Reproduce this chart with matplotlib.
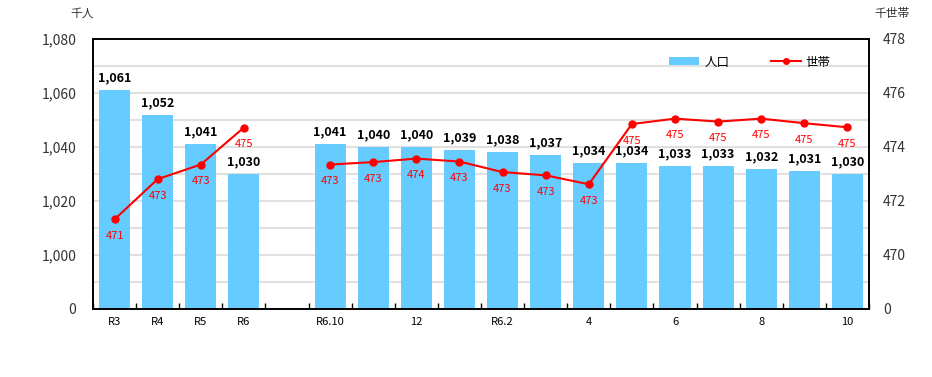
import numpy as np
import matplotlib.pyplot as plt
from matplotlib.ticker import FuncFormatter, MultipleLocator
from matplotlib.lines import Line2D
from matplotlib.patches import Patch

plt.rcParams['font.family'] = ['Noto Sans CJK JP', 'DejaVu Sans']

# data (blank slot between R6 and R6.10)
labels = ["R3", "R4", "R5", "R6", "", "R6.10", "", "12", "", "R6.2", "",
          "4", "", "6", "", "8", "", "10"]
population = [1061, 1052, 1041, 1030, np.nan, 1041, 1040, 1040, 1039, 1038,
              1037, 1034, 1034, 1033, 1033, 1032, 1031, 1030]
households = [471.32, 472.81, 473.35, 474.72, np.nan, 473.35, 473.44, 473.57,
              473.46, 473.07, 472.95, 472.62, 474.85, 475.05, 474.94, 475.05,
              474.88, 474.73]

bar_color = "#66CCFF"
line_color = "#FF0000"

x = np.arange(len(labels))
pop = np.array(population, dtype=float)
hh = np.array(households, dtype=float)

fig = plt.figure(figsize=(9.32, 3.77), dpi=100)
ax = fig.add_axes([0.0998, 0.1804, 0.8326, 0.7162])
ax2 = ax.twinx()

ax.set_axisbelow(True)
ax.bar(x, pop, width=0.72, color=bar_color, zorder=2)
ax.set_xlim(-0.5, len(labels) - 0.5)
ax.set_ylim(980, 1080)
ax.set_yticks(np.arange(980, 1081, 20))
ax.yaxis.set_minor_locator(MultipleLocator(10))
ax.grid(axis="y", which="both", color="#E0E0E0", linewidth=1.5, zorder=0)
ax.yaxis.set_major_formatter(FuncFormatter(lambda v, p: "0" if v <= 980 else f"{int(v):,}"))
ax.tick_params(axis="y", which="both", length=0, labelsize=10, labelcolor="#333333", pad=12)

ax.set_xticks(x)
ax.set_xticklabels(labels, fontsize=8)
ax.tick_params(axis="x", which="major", length=0, pad=6)
ax.set_xticks(np.arange(-0.5, len(labels)), minor=True)
ax.tick_params(axis="x", which="minor", direction="in", length=4, width=1)

for xi, v in zip(x, pop):
    if not np.isnan(v):
        ax.annotate(f"{int(v):,}", (xi, v), xytext=(0, 4), textcoords="offset points",
                    ha="center", va="bottom", fontsize=9, fontweight="bold", color="black")

ax2.plot(x, hh, color=line_color, linewidth=1.5, marker="o", markersize=5, zorder=3)
ax2.set_ylim(468, 478)
ax2.set_yticks(np.arange(468, 479, 2))
ax2.yaxis.set_major_formatter(FuncFormatter(lambda v, p: "0" if v <= 468 else f"{int(v)}"))
ax2.tick_params(axis="y", length=0, labelsize=10, labelcolor="#333333", pad=10)

for xi, v in zip(x, hh):
    if not np.isnan(v):
        ax2.annotate(f"{int(round(v))}", (xi, v), xytext=(0, -8.5), textcoords="offset points",
                     ha="center", va="top", fontsize=8, color=line_color)

for a in (ax, ax2):
    for s in a.spines.values():
        s.set_color("black")
        s.set_linewidth(1.2)

fig.text(0.088, 0.965, "千人", fontsize=8.5, ha="center", va="center", color="#333333")
fig.text(0.957, 0.965, "千世帯", fontsize=8.5, ha="center", va="center", color="#333333")

handles = [Patch(facecolor=bar_color, edgecolor="none"),
           Line2D([0], [0], color=line_color, marker="o", markersize=4, linewidth=1.5)]
ax2.legend(handles, ["人口", "世帯"], loc="upper right", bbox_to_anchor=(0.965, 0.98),
           ncol=2, frameon=False, fontsize=9, handlelength=2.4, handleheight=0.6,
           columnspacing=3.3, handletextpad=0.4)

fig.savefig("out.png", dpi=100)
